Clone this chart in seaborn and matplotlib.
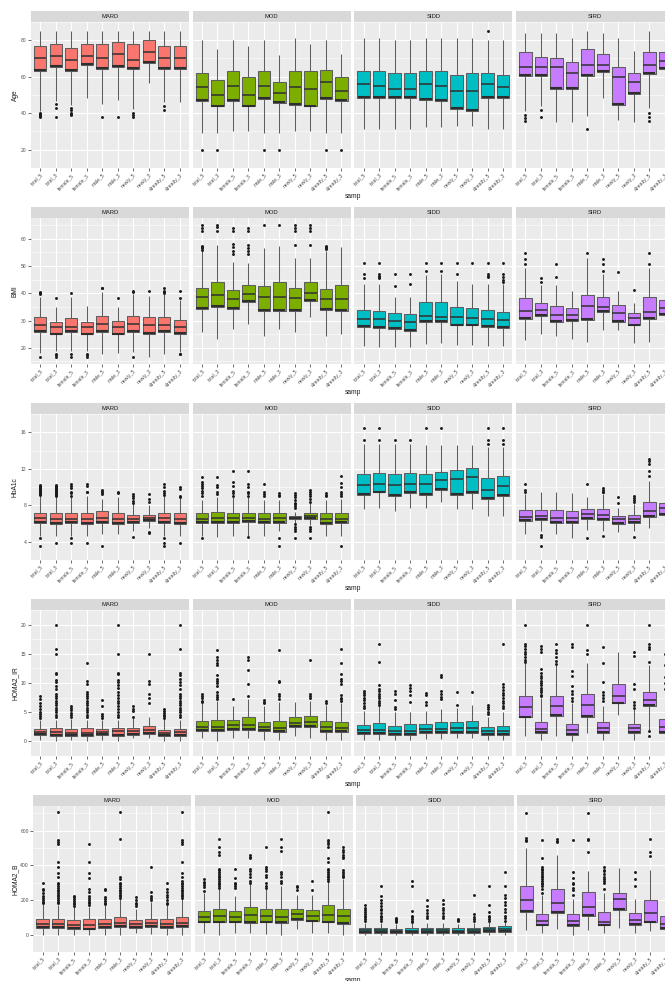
import matplotlib
matplotlib.use("Agg")
import matplotlib.pyplot as plt
import matplotlib.transforms as mtransforms
import numpy as np
import pandas as pd
import seaborn as sns

SAMP = ["total_5", "total_3", "female_5", "female_3", "male_5", "male_3",
        "newly_5", "newly_3", "already_5", "already_3"]
CLUSTERS = ["MARD", "MOD", "SIDD", "SIRD"]
PALETTE = {"MARD": "#F8766D", "MOD": "#7CAE00", "SIDD": "#00BFC4", "SIRD": "#C77CFF"}

# Box summaries per samp group: (lower whisker, Q1, median, Q3, upper whisker)
AGE_BOX = {
    "MARD": [(41.5, 63.2, 70.1, 77.1, 85), (46.5, 65.2, 71.4, 78.2, 85), (44.5, 63.2, 69.2, 75.9, 85),
             (48.5, 66.5, 71.4, 78.2, 85), (45, 64.3, 70.1, 78.2, 85), (47, 65.2, 72.2, 79.2, 85),
             (42.5, 64.3, 69.0, 78.2, 85), (56.5, 67.5, 73.3, 80.0, 85), (46, 64.3, 70.1, 77.1, 85),
             (46.4, 64.3, 70.1, 77.1, 85)],
    "MOD": [(29, 46.6, 54.2, 61.9, 80), (29, 43.7, 50.2, 58.0, 75), (30.3, 46.6, 55.1, 63.2, 80),
            (30.3, 43.7, 50.2, 60.0, 77), (29, 47.7, 55.1, 63.2, 80), (29, 45.6, 51, 57, 72),
            (30.3, 44.5, 54.2, 63.2, 81), (30.3, 43.7, 53.1, 63.2, 78), (29, 47.7, 57, 63.5, 80),
            (29, 46.6, 52.1, 60, 72.2)],
    "SIDD": [(31.3, 48.2, 55.9, 63.2, 81), (31.3, 48.2, 55.1, 62.9, 81), (31.3, 48.2, 53.1, 62.2, 80),
             (31.3, 48.2, 53.1, 62.2, 80), (32.3, 47.2, 55.9, 63.2, 81), (32.3, 46.9, 55.1, 63.2, 81),
             (33, 42.3, 52.1, 61.1, 81), (33, 41.2, 52.1, 62.2, 81), (31.3, 48.2, 55.9, 62.2, 80),
             (31.3, 48.2, 54.2, 61.1, 80)],
    "SIRD": [(41.5, 60.3, 65.2, 73.3, 84), (44, 60.3, 65.2, 71, 84), (35, 53.4, 65.2, 70, 84),
             (35, 53.4, 62.2, 68.1, 81), (38.5, 60.3, 66.2, 75, 85), (48.2, 62.4, 66.2, 72.2, 84),
             (36.4, 44.5, 60, 65.2, 81), (35, 50.5, 57, 62.2, 74), (43, 61.3, 66.2, 73.3, 85),
             (50, 64.4, 68.9, 73.3, 85)],
}
AGE_OUT = {
    "MARD": [[40, 39.5, 39, 38.5, 38], [45, 43, 38], [43, 42, 40, 39.5, 39], [], [38], [38],
             [40.4, 39, 38], [], [44, 42], []],
    "MOD": [[20], [20], [], [], [20], [20], [], [], [20], [20]],
    "SIDD": [[], [], [], [], [], [], [], [], [85], []],
    "SIRD": [[39, 37.5, 36], [42, 38], [], [], [31.5], [], [], [], [40, 38, 36], []],
}

BMI_BOX = {
    "MARD": [(18, 25.7, 28.4, 31.2, 38.5), (19, 24.9, 27.6, 29.4, 34.8), (19, 25.7, 27.8, 31.0, 38.5),
             (19, 24.9, 27.6, 29.4, 35.5), (17.8, 25.7, 28.8, 31.8, 40.5), (18, 24.9, 27.6, 30, 34.8),
             (18.4, 25.7, 28.8, 31.8, 39.7), (16.6, 25.1, 28.2, 31.2, 39), (17.8, 25.7, 28.4, 31.2, 39.7),
             (18.4, 25.1, 27.6, 30.2, 37.5)],
    "MOD": [(25.7, 34.2, 38.5, 42.1, 55.5), (23.3, 35.1, 39.3, 44, 57.9), (27, 34.2, 37.9, 41.2, 51.6),
            (28.8, 36.7, 39.7, 43.1, 51), (24.5, 33.4, 38.5, 42.7, 56.7), (27, 33.6, 38.7, 44, 57.5),
            (25.7, 33.4, 38.3, 42.1, 53), (31.2, 37.3, 40, 44.3, 53), (24.5, 33.9, 37.9, 41.5, 55.7),
            (24.9, 33.4, 37.9, 43, 57)],
    "SIDD": [(20.5, 27.6, 30.6, 33.9, 43.4), (20.3, 27.3, 30.6, 33.6, 43.4), (20.3, 27, 29.8, 32.7, 38.5),
             (20.3, 26.3, 29.4, 32.4, 38.5), (21.5, 29.4, 31.8, 36.7, 46.8), (21.7, 29.4, 31.2, 36.9, 47),
             (20.9, 28.2, 31.2, 34.8, 44.6), (20.9, 28.2, 31, 34.5, 43.4), (20.5, 27.6, 30.6, 33.9, 43.4),
             (20.5, 27.3, 30.2, 33.3, 43.4)],
    "SIRD": [(22.7, 30.6, 33.4, 38.3, 49.2), (24.9, 31.8, 33.9, 36.4, 43.1), (24.5, 29.6, 32, 35.3, 43.1),
             (23.3, 30, 32, 34.6, 40.9), (22.1, 30.2, 35.5, 39.5, 53.1), (26.6, 33, 35.1, 38.5, 47.2),
             (26.6, 29.6, 32.9, 35.8, 40.9), (21.7, 28.2, 31, 32.9, 36.3), (22.1, 30.6, 33, 38.5, 49.2),
             (25, 32.2, 34.6, 37.7, 45)],
}
BMI_OUT = {
    "MARD": [[40.5, 40, 39.6, 16.5], [38.2, 17.8, 17.2, 16.6], [40, 17.8, 16.6], [17.8, 17.2, 16.6],
             [42.1, 41.8], [38.2], [40.9, 40.3, 16.6], [41], [42, 41, 40.5, 40.2], [40.9, 38.2, 17.8, 17.6]],
    "MOD": [[65, 64, 63, 57.5, 57, 56.5, 56], [65, 64.5, 63], [64, 63, 58, 57, 55.5, 54.5],
            [64, 62.8, 57.9, 56.7, 55.5, 54.3], [65.2], [65.2], [65, 64, 63, 57.9], [65, 64, 63, 57.9],
            [57.3, 56.9, 56.5, 56.1], []],
    "SIDD": [[51.3, 47, 45.5], [51.3, 47, 46.5, 46, 45.5], [47, 42.7], [47, 43.4], [51.3, 48.2],
             [51.3, 48.2], [51.3, 47], [51.3], [51.3, 47, 46.5, 46], [51.3, 47, 46, 45, 44]],
    "SIRD": [[54.9, 52.5, 50.6], [45.8, 44.3], [50.6, 46], [], [54.9], [52.5, 50.9, 48.2], [48], [41.2],
             [54.9, 50.6], []],
}

HBA1C_BOX = {
    "MARD": [(4.6, 6.1, 6.55, 7.2, 9.0), (4.6, 6.0, 6.45, 7.1, 8.9), (4.6, 6.1, 6.5, 7.2, 8.9),
             (4.6, 6.0, 6.45, 7.2, 9.0), (4.8, 6.1, 6.55, 7.35, 8.7), (4.8, 6.0, 6.5, 7.2, 8.9),
             (5.15, 6.1, 6.5, 6.9, 8.2), (5.5, 6.3, 6.6, 6.9, 8.0), (4.6, 6.1, 6.6, 7.2, 9.0),
             (4.6, 6.0, 6.45, 7.1, 8.8)],
    "MOD": [(4.6, 6.1, 6.5, 7.2, 8.6), (4.5, 6.1, 6.6, 7.3, 8.9), (4.65, 6.1, 6.6, 7.2, 8.9),
            (4.65, 6.2, 6.6, 7.2, 8.9), (4.65, 6.1, 6.5, 7.1, 8.6), (5.15, 6.1, 6.6, 7.2, 8.6),
            (6.0, 6.45, 6.65, 6.85, 7.3), (5.8, 6.5, 6.8, 7.1, 8.2), (4.65, 6.0, 6.45, 7.15, 8.6),
            (4.65, 6.05, 6.45, 7.1, 8.7)],
    "SIDD": [(7.55, 9.15, 10.2, 11.4, 14.7), (7.75, 9.4, 10.35, 11.5, 14.7), (7.4, 9.05, 10.2, 11.4, 14.7),
             (7.65, 9.3, 10.3, 11.5, 14.7), (7.75, 9.15, 10.3, 11.4, 14.6), (8.4, 9.65, 10.75, 11.65, 14.6),
             (7.55, 9.1, 10.9, 11.9, 14.6), (7.55, 9.3, 11.1, 12.05, 14.6), (6.85, 8.65, 9.65, 11.0, 14.4),
             (6.85, 9.05, 10.1, 11.2, 14.4)],
    "SIRD": [(4.9, 6.3, 6.7, 7.5, 9.2), (5.15, 6.4, 6.8, 7.5, 9.4), (4.9, 6.1, 6.6, 7.5, 9.4),
             (4.4, 6.1, 6.6, 7.35, 9.3), (5.3, 6.45, 7.0, 7.6, 8.9), (5.15, 6.4, 6.95, 7.6, 9.2),
             (5.05, 6.0, 6.45, 6.85, 7.75), (5.15, 6.1, 6.5, 6.95, 8.1), (5.55, 6.75, 7.35, 8.35, 10.7),
             (5.6, 6.95, 7.7, 8.25, 10.2)],
}
HBA1C_OUT = {
    "MARD": [[10.2, 10.1, 10.0, 9.9, 9.8, 9.7, 9.6, 9.5, 9.4, 9.3, 9.2, 9.1, 4.4, 3.5],
             [10.2, 10.1, 10.0, 9.9, 9.8, 9.7, 9.6, 9.5, 9.4, 9.3, 9.2, 9.1, 9.0, 3.9],
             [10.3, 10.1, 9.9, 9.5, 9.3, 9.0, 4.4, 3.9], [10.3, 10.1, 9.5, 9.4, 3.9],
             [9.7, 9.5, 9.4, 9.2, 3.5], [9.5, 9.3], [9.2, 9.0, 8.8, 8.5, 8.3, 4.5],
             [9.2, 8.7, 8.4, 5.1, 5.0], [10.3, 10.0, 9.6, 9.3, 9.1, 4.4, 3.9, 3.5],
             [10.0, 9.8, 9.0, 8.9, 3.9]],
    "MOD": [[11.1, 10.5, 10.3, 10.1, 9.9, 9.6, 9.3, 9.0, 4.4], [11.1, 10.2, 10.0, 9.4, 9.2],
            [11.7, 10.5, 10.1, 9.6, 9.3, 9.0], [11.7, 10.3, 10.0, 9.5, 9.3, 9.0, 4.55],
            [10.3, 9.5, 9.2, 9.0], [9.3, 9.1, 9.0, 4.4, 3.5],
            [9.3, 9.1, 8.9, 8.6, 8.3, 8.1, 7.9, 7.7, 5.9, 5.6, 5.4, 5.2, 4.4],
            [9.7, 9.4, 9.2, 9.0, 8.7, 8.4, 5.6, 5.4, 5.2, 4.4], [9.3, 9.1, 9.0],
            [11.2, 10.4, 10.0, 9.4, 9.2, 9.0, 3.5]],
    "SIDD": [[16.5, 15.2], [16.5, 15.2], [15.2], [15.2], [16.5], [16.5], [], [],
             [16.5, 15.2, 14.7], [16.5, 15.2, 14.7]],
    "SIRD": [[10.3, 9.7, 9.4], [4.75, 4.55, 3.5], [], [], [10.3, 4.4], [9.9, 9.7, 9.5, 9.4, 4.6],
             [8.9, 8.25], [9.0, 8.8, 8.6, 8.4, 4.5], [13.1, 12.8, 12.5, 11.7, 11.2], []],
}

IR_BOX = {
    "MARD": [(0.25, 1.1, 1.6, 2.1, 3.75), (0.1, 1.0, 1.6, 2.25, 3.75), (0.25, 1.0, 1.5, 2.1, 3.9),
             (0.1, 1.0, 1.5, 2.25, 3.75), (0.25, 1.1, 1.6, 2.1, 3.6), (0.1, 1.0, 1.75, 2.25, 3.75),
             (0.5, 1.1, 1.75, 2.35, 4.0), (0.5, 1.25, 1.9, 2.6, 4.25), (0.1, 1.0, 1.5, 2.0, 3.9),
             (0.1, 1.0, 1.6, 2.15, 3.75)],
    "MOD": [(0.5, 1.85, 2.5, 3.5, 6.5), (0.1, 1.75, 2.5, 3.75, 7.0), (0.5, 2.0, 2.75, 3.75, 6.1),
            (0.5, 2.0, 2.85, 4.25, 7.25), (0.25, 1.75, 2.4, 3.4, 6.0), (0.25, 1.6, 2.35, 3.5, 6.75),
            (1.0, 2.4, 3.1, 4.1, 6.75), (0.6, 2.4, 3.25, 4.35, 7.0), (0.25, 1.65, 2.4, 3.5, 6.25),
            (0.25, 1.65, 2.35, 3.4, 6.5)],
    "SIDD": [(0.25, 1.25, 1.9, 2.75, 5.25), (0.25, 1.25, 1.9, 3.1, 6.0), (0.25, 1.1, 1.75, 2.65, 5.0),
             (0.25, 1.1, 1.75, 2.9, 5.0), (0.4, 1.4, 2.1, 3.0, 5.25), (0.4, 1.4, 2.15, 3.25, 5.5),
             (0.5, 1.5, 2.35, 3.25, 5.75), (0.5, 1.5, 2.35, 3.5, 6.25), (0.25, 1.1, 1.75, 2.5, 4.25),
             (0.25, 1.1, 1.75, 2.65, 5.0)],
    "SIRD": [(1.0, 4.1, 5.9, 7.75, 13.5), (0.25, 1.5, 2.15, 3.4, 7.5), (1.0, 4.4, 6.1, 7.85, 13.0),
             (0.1, 1.1, 2.0, 3.0, 6.5), (1.4, 4.25, 6.25, 8.1, 13.4), (0.25, 1.5, 2.35, 3.4, 6.0),
             (4.5, 6.5, 7.75, 9.75, 15.25), (0.25, 1.5, 2.25, 2.9, 5.5), (2.0, 6.1, 7.15, 8.5, 13.0),
             (0.25, 1.4, 2.4, 3.9, 7.0)],
}
IR_OUT = {
    "MARD": [[7.7, 7.2, 6.5, 6.0, 5.5, 5.0, 4.7, 4.3, 4.0],
             [20, 15.9, 15, 11.7, 11.5, 10.5, 10.2, 9.5, 9.0, 8.2, 7.8, 7.4, 7.0, 6.6, 6.2, 5.8, 5.4, 5.0, 4.6, 4.2],
             [6.1, 5.8, 5.3, 4.8, 4.5, 4.1],
             [13.5, 10.3, 9.9, 8.5, 8.2, 7.8, 7.4, 7.0, 6.6, 6.2, 5.8, 5.4, 5.0, 4.6, 4.2],
             [7.1, 6.1, 4.7, 4.4, 4.0],
             [20, 15, 11.7, 11.5, 10.5, 10.2, 9.6, 9.2, 8.5, 8.0, 7.5, 7.0, 6.5, 6.0, 5.5, 5.0, 4.6, 4.2],
             [6.0, 5.6, 5.25, 4.25],
             [14.9, 10.4, 9.9, 8.2, 7.4, 6.6],
             [5.5, 5.2, 4.9, 4.6, 4.3, 4.0],
             [20, 15.9, 11.7, 11.4, 10.6, 10.2, 9.6, 9.0, 8.2, 7.8, 7.4, 7.0, 6.6, 6.2, 5.8, 5.4, 5.0, 4.6, 4.2]],
    "MOD": [[8.2, 7.8, 7.4, 7.0, 6.7],
            [15.7, 14.5, 14.0, 13.4, 13.0, 11.3, 10.6, 10.3, 10.0, 9.5, 8.4, 8.0, 7.6, 7.2],
            [7.25], [14.5, 14.0, 12.2, 9.8, 7.8], [7.1, 6.8, 6.5], [15.7, 10.4, 10.2, 8.2, 7.8, 7.2],
            [], [13.9, 8.2, 7.8, 7.4], [7.0, 6.6],
            [15.75, 13.5, 11.5, 10.6, 10.3, 9.8, 8.0, 7.5, 7.2, 7.0]],
    "SIDD": [[8.7, 8.3, 8.0, 7.5, 7.1, 6.5, 6.1, 5.7],
             [16.7, 13.6, 9.7, 9.0, 8.6, 8.2, 7.8, 7.4, 7.0, 6.6, 6.2],
             [8.6, 8.2, 7.1, 5.9, 5.5], [9.7, 9.2, 8.6, 8.0, 6.7], [8.3, 7.9, 6.7, 6.3],
             [11.3, 11.0, 8.7, 8.2, 7.6, 7.2], [8.5, 6.3], [8.4], [6.3, 5.9, 5.5, 5.0, 4.7],
             [16.7, 9.8, 9.3, 8.8, 8.3, 7.9, 7.5, 7.0, 6.6, 6.1, 5.7]],
    "SIRD": [[20, 16.7, 16.3, 15.8, 15.3, 14.9, 14.4, 14.0, 13.6],
             [16.3, 15.8, 15.3, 12.4, 11.7, 11.2, 10.8, 10.4, 10.0, 9.6, 9.2, 8.8, 8.4, 8.0, 7.8],
             [16.7, 15.7, 15.2, 14.5, 13.8, 13.2],
             [16.7, 16.2, 12.1, 11.2, 9.5, 8.7, 8.1, 7.5, 7.0],
             [20, 15.7, 15.0], [16.2, 13.4, 10.1, 8.4, 8.0, 7.5, 7.0], [],
             [15.25, 14.6, 9.9, 8.9, 6.75, 6.25, 5.75],
             [20, 16.7, 16.2, 15.8, 13.6, 1.75, 1.0], [15.0, 13.0, 11.0, 10.0, 9.0]],
}

B_BOX = {
    "MARD": [(0, 40, 62, 88, 176), (0, 40, 62, 93, 168), (0, 35, 56, 83, 159), (0, 30, 53, 88, 159),
             (0, 40, 62, 88, 168), (0, 44, 65, 100, 203), (9, 40, 62, 83, 150), (5, 44, 65, 93, 189),
             (0, 40, 62, 88, 168), (0, 44, 65, 100, 203)],
    "MOD": [(9, 70, 100, 136, 238), (0, 70, 106, 150, 265), (12, 70, 100, 136, 224), (12, 65, 115, 159, 290),
            (5, 70, 106, 145, 265), (0, 67, 100, 150, 280), (30, 83, 118, 145, 230), (9, 76, 106, 141, 230),
            (12, 70, 115, 168, 305), (0, 62, 106, 150, 318)],
    "SIDD": [(0, 12, 26, 39, 65), (0, 12, 26, 40, 65), (0, 9, 23, 35, 62), (0, 9, 23, 39, 65),
             (0, 12, 26, 40, 65), (0, 12, 26, 40, 65), (0, 9, 23, 39, 62), (0, 12, 26, 39, 65),
             (0, 16, 30, 44, 70), (0, 14, 32, 48, 70)],
    "SIRD": [(26, 132, 198, 279, 500), (9, 53, 79, 120, 229), (35, 124, 185, 265, 459), (0, 49, 76, 118, 203),
             (26, 106, 159, 247, 365), (12, 53, 74, 132, 238), (40, 141, 208, 238, 383), (9, 58, 83, 124, 203),
             (23, 70, 124, 199, 371), (10, 35, 62, 106, 220)],
}
B_OUT = {
    "MARD": [[300, 265, 255, 240, 225, 210, 200, 190, 180],
             [706, 545, 535, 525, 418, 388, 358, 330, 300, 290, 280, 270, 260, 250, 240, 230, 220, 210, 200, 190, 180],
             [225, 215, 205, 195, 185, 175, 165],
             [525, 418, 358, 328, 265, 245, 225, 210, 200, 190, 180, 170],
             [265, 260, 215, 205, 195, 185, 175],
             [706, 552, 330, 320, 300, 290, 280, 270, 260, 250, 240, 230, 220, 210],
             [215, 200, 185, 175, 165], [388, 247, 220, 210, 200],
             [300, 265, 245, 230, 215, 200, 185, 175],
             [706, 545, 535, 525, 418, 355, 330, 310, 300, 290, 280, 270, 260, 250, 240, 230, 220, 210]],
    "MOD": [[318, 305, 295, 285, 275, 250],
            [552, 503, 476, 459, 380, 370, 360, 350, 340, 330, 320, 310, 300, 290, 280, 270],
            [376, 326, 300, 290, 280, 270], [459, 450, 440, 376, 365, 350, 330, 310, 300],
            [503, 388, 380, 365, 345, 330, 300, 280, 270], [552, 503, 480, 362, 350, 330, 310, 300],
            [282, 272, 260], [309, 256],
            [706, 545, 535, 525, 503, 441, 418, 380, 370, 360, 350, 340, 330, 320, 310],
            [503, 490, 475, 460, 450, 440, 370, 360, 350, 340, 330]],
    "SIDD": [[168, 155, 140, 128, 118, 110, 100, 90, 80],
             [280, 220, 200, 180, 165, 150, 140, 125, 110, 100, 90, 80],
             [95, 90, 85, 80, 75], [309, 282, 136, 110, 100, 90, 80, 70],
             [200, 165, 140, 125, 110, 95], [200, 175, 155, 140, 125, 110, 95],
             [92, 85, 78], [229, 120, 100, 90, 80], [280, 170, 130, 110, 100, 90, 80],
             [362, 280, 230, 210, 190, 170, 150, 130, 110, 95, 80]],
    "SIRD": [[702, 556, 545, 538],
             [547, 441, 388, 378, 370, 360, 350, 340, 330, 320, 310, 300, 290, 280, 265, 238],
             [552, 540, 535], [547, 362, 326, 300, 290, 270, 255, 229],
             [702, 552, 545, 476], [388, 375, 365, 350, 330, 320, 310, 300, 265],
             [], [362, 318, 282], [552, 476, 453], [550, 380, 350, 330, 310]],
}

ROWS = [
    ("Age", AGE_BOX, AGE_OUT, [20, 40, 60, 80]),
    ("BMI", BMI_BOX, BMI_OUT, [20, 30, 40, 50, 60]),
    ("HbA1c", HBA1C_BOX, HBA1C_OUT, [4, 8, 12, 16]),
    ("HOMA2_IR", IR_BOX, IR_OUT, [0, 5, 10, 15, 20]),
    ("HOMA2_B", B_BOX, B_OUT, [0, 200, 400, 600]),
]

sns.set_theme(style="darkgrid")
plt.rcParams["font.family"] = ["Liberation Sans", "DejaVu Sans"]

W, H = 665, 981
fig = plt.figure(figsize=(W / 100, H / 100), dpi=100)
fig.patch.set_facecolor("white")

ROW_PITCH = 196
STRIP_H = 11
PANEL_H = 146
PANEL_W = 158
LEFTS = [31, 31, 31, 31, 33.3]
COL_PITCH = [161.7, 161.7, 161.7, 161.7, 161.3]


def fig_rect(x, y_top, w, h):
    return [x / W, 1 - (y_top + h) / H, w / W, h / H]


for r, (label, boxes, outs, yticks) in enumerate(ROWS):
    strip_top = 11 + ROW_PITCH * r
    panel_top = strip_top + STRIP_H

    all_vals = [v for c in CLUSTERS for five in boxes[c] for v in five]
    all_vals += [v for c in CLUSTERS for o in outs[c] for v in o]
    lo, hi = min(all_vals), max(all_vals)
    pad = 0.05 * (hi - lo)
    ylim = (lo - pad, hi + pad)
    step = yticks[1] - yticks[0]
    minor = [t + step / 2 for t in [yticks[0] - step] + yticks]

    for k, cl in enumerate(CLUSTERS):
        x0 = LEFTS[r] + COL_PITCH[r] * k
        ax = fig.add_axes(fig_rect(x0, panel_top, PANEL_W, PANEL_H))
        sax = fig.add_axes(fig_rect(x0, strip_top, PANEL_W, STRIP_H))
        sax.set_facecolor("#D9D9D9")
        sax.set_xticks([])
        sax.set_yticks([])
        for sp in sax.spines.values():
            sp.set_visible(False)
        sax.text(0.5, 0.5, cl, ha="center", va="center", fontsize=4.2,
                 color="#1A1A1A", transform=sax.transAxes)

        stats = boxes[cl]
        df = pd.DataFrame([(s, v) for s, five in zip(SAMP, stats) for v in five],
                          columns=["samp", "value"])
        sns.boxplot(data=df, x="samp", y="value", order=SAMP, whis=(0, 100),
                    showfliers=False, showcaps=False, color=PALETTE[cl], saturation=1,
                    width=0.8, linecolor="#5E5E5E", linewidth=0.75,
                    medianprops=dict(color="#303030", linewidth=1.1),
                    ax=ax)

        # darker lower hinge
        q1 = [five[1] for five in stats]
        xs = np.arange(len(SAMP))
        up = mtransforms.offset_copy(ax.transData, fig=fig, x=0, y=0.9, units="dots")
        ax.hlines(q1, xs - 0.39, xs + 0.39, colors="#2E2E2E", linewidth=1.5,
                  transform=up, zorder=4)

        odf = pd.DataFrame([(s, v) for s, o in zip(SAMP, outs[cl]) for v in o],
                           columns=["samp", "value"])
        if len(odf):
            sns.stripplot(data=odf, x="samp", y="value", order=SAMP, jitter=False,
                          color="#1A1A1A", size=2.1, linewidth=0, ax=ax, zorder=5)

        ax.set_facecolor("#EBEBEB")
        ax.set_xlim(-0.6, 9.6)
        ax.set_ylim(ylim)
        ax.set_yticks(yticks)
        ax.set_yticks(minor, minor=True)
        ax.set_xticks(xs)
        ax.set_xticklabels(SAMP, rotation=45, ha="right", rotation_mode="anchor")
        ax.grid(True, which="major", color="white", linewidth=0.8)
        ax.grid(True, which="minor", axis="y", color="white", linewidth=0.4)
        ax.set_axisbelow(True)
        for sp in ax.spines.values():
            sp.set_visible(False)
        ax.set_xlabel("")
        ax.set_ylabel("")
        ax.tick_params(axis="both", which="major", length=2, width=0.5, color="#333333",
                       labelsize=3.6, labelcolor="#4D4D4D", pad=1.2, bottom=True, left=True)
        ax.tick_params(which="minor", length=0)
        if k > 0:
            ax.tick_params(axis="y", left=False, labelleft=False)

    fig.text(15 / W, 1 - (panel_top + PANEL_H / 2) / H, label, rotation=90,
             ha="center", va="center", fontsize=4.8, color="#1A1A1A")
    fig.text(353 / W, 1 - (strip_top + 186) / H, "samp", ha="center", va="center",
             fontsize=4.8, color="#1A1A1A")

fig.savefig("out.png", dpi=100)
